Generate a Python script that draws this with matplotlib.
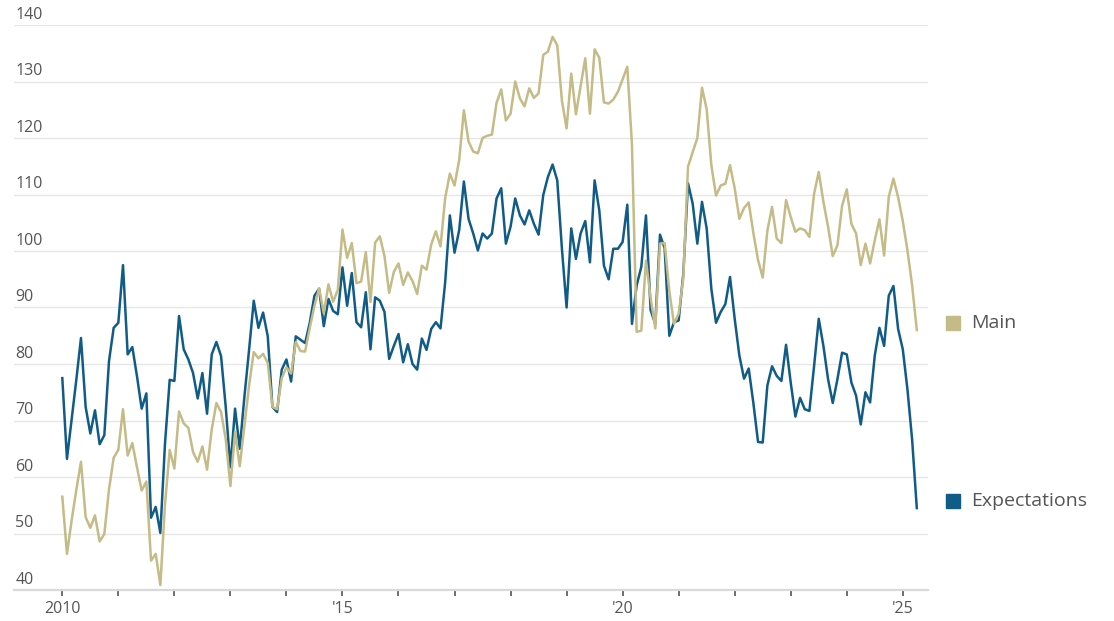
#!/usr/bin/env python3
"""Consumer confidence: main index vs. expectations index, monthly since 2010."""

import numpy as np
import matplotlib
matplotlib.use('Agg')
import matplotlib.pyplot as plt
import matplotlib.transforms as mtransforms


# Monthly values, starting January 2010
START_YEAR = 2010

main_index = [
    56.5, 46.4, 52.3, 57.7, 62.7, 52.9, 51.0, 53.2, 48.6, 49.9, 57.8, 63.4,   # 2010
    64.8, 72.0, 63.8, 66.0, 61.7, 57.6, 59.2, 45.2, 46.4, 40.9, 55.2, 64.8,   # 2011
    61.5, 71.6, 69.5, 68.7, 64.4, 62.7, 65.4, 61.3, 68.4, 73.1, 71.5, 66.7,   # 2012
    58.4, 68.0, 61.9, 69.0, 76.2, 82.1, 81.0, 81.8, 80.2, 72.4, 72.0, 77.5,   # 2013
    79.4, 78.3, 83.9, 82.3, 82.2, 86.4, 90.3, 93.4, 89.0, 94.1, 91.0, 93.1,   # 2014
    103.8, 98.8, 101.4, 94.3, 94.6, 99.8, 91.0, 101.5, 102.6, 99.1, 92.6, 96.3,   # 2015
    97.8, 94.0, 96.2, 94.7, 92.4, 97.4, 96.7, 101.1, 103.5, 100.8, 109.4, 113.7,  # 2016
    111.6, 116.1, 124.9, 119.4, 117.6, 117.3, 120.0, 120.4, 120.6, 126.2, 128.6, 123.1,  # 2017
    124.3, 130.0, 127.0, 125.6, 128.8, 127.1, 127.9, 134.7, 135.3, 137.9, 136.4, 126.6,  # 2018
    121.7, 131.4, 124.2, 129.2, 134.1, 124.3, 135.7, 134.2, 126.3, 126.1, 126.8, 128.2,  # 2019
    130.4, 132.6, 118.8, 85.7, 85.9, 98.3, 91.7, 86.3, 101.3, 101.4, 92.9, 87.1,  # 2020
    88.9, 95.2, 114.9, 117.5, 120.0, 128.9, 125.1, 115.2, 109.8, 111.6, 111.9, 115.2,  # 2021
    111.1, 105.7, 107.6, 108.6, 103.2, 98.4, 95.3, 103.6, 107.8, 102.2, 101.4, 109.0,  # 2022
    106.0, 103.4, 104.0, 103.7, 102.5, 110.1, 114.0, 108.7, 104.3, 99.1, 101.0, 108.0,  # 2023
    110.9, 104.8, 103.1, 97.5, 101.3, 97.8, 101.9, 105.6, 99.2, 109.6, 112.8, 109.5,  # 2024
    105.3, 100.1, 93.9, 86.0,                                                  # 2025
]

expectations_index = [
    77.5, 63.2, 70.2, 77.2, 84.6, 72.4, 67.7, 71.8, 65.8, 67.4, 80.5, 86.4,   # 2010
    87.3, 97.5, 81.7, 83.0, 77.8, 72.1, 74.8, 52.8, 54.7, 50.1, 66.0, 77.2,   # 2011
    77.0, 88.5, 82.6, 80.8, 78.4, 73.9, 78.4, 71.2, 81.7, 83.9, 81.4, 72.4,   # 2012
    61.7, 72.1, 65.0, 74.2, 82.5, 91.2, 86.4, 89.1, 84.9, 72.4, 71.5, 79.0,   # 2013
    80.8, 76.9, 84.9, 84.3, 83.7, 87.3, 92.1, 93.3, 86.7, 91.5, 89.4, 88.8,   # 2014
    97.1, 90.3, 96.1, 87.4, 86.5, 92.7, 82.6, 91.8, 91.2, 89.2, 80.9, 83.2,   # 2015
    85.3, 80.3, 83.5, 80.0, 79.0, 84.5, 82.5, 86.2, 87.4, 86.3, 94.5, 106.3,  # 2016
    99.7, 103.7, 112.3, 105.7, 103.1, 100.1, 103.1, 102.2, 103.1, 109.3, 111.1, 101.3,  # 2017
    104.3, 109.3, 106.3, 104.7, 107.2, 104.8, 102.9, 109.9, 113.1, 115.3, 112.5, 100.4,  # 2018
    90.0, 104.0, 98.6, 103.1, 105.3, 98.0, 112.5, 107.2, 97.4, 95.0, 100.4, 100.4,  # 2019
    101.6, 108.2, 87.1, 93.9, 97.2, 106.3, 89.5, 87.1, 102.9, 100.5, 85.0, 87.4,  # 2020
    87.7, 96.0, 112.0, 108.4, 101.3, 108.7, 104.0, 93.3, 87.3, 89.2, 90.6, 95.4,  # 2021
    88.0, 81.5, 77.4, 79.2, 73.1, 66.2, 66.1, 76.2, 79.6, 77.9, 77.0, 83.4,   # 2022
    76.7, 70.7, 74.0, 72.0, 71.7, 79.6, 88.0, 83.2, 77.3, 73.1, 77.3, 82.0,   # 2023
    81.7, 76.7, 74.4, 69.3, 75.0, 73.2, 81.5, 86.4, 83.2, 92.1, 93.8, 86.2,   # 2024
    82.6, 75.5, 66.6, 54.5,                                                   # 2025
]

y_ticks = [40, 50, 60, 70, 80, 90, 100, 110, 120, 130, 140]
x_tick_years = list(range(2010, 2026))
x_tick_labels = {2010: '2010', 2015: "'15", 2020: "'20", 2025: "'25"}

series_labels = ['Main', 'Expectations']

COLORS = {'Main': '#c4bb87', 'Expectations': '#105c87'}
TEXT_GREY = '#555555'
GRID_GREY = '#e6e6e6'


def setup_style():
    plt.rcParams['font.family'] = ['Open Sans', 'DejaVu Sans']
    plt.rcParams['font.size'] = 11.5
    plt.rcParams['axes.linewidth'] = 1.5


def main():
    setup_style()

    months = np.arange(len(main_index))
    x = START_YEAR + months / 12.0

    W, H = 1114, 621
    fig = plt.figure(figsize=(W / 100, H / 100), dpi=100)
    # axes box in pixel terms: x 14..928, y 25..590
    ax = fig.add_axes([14 / W, 1 - 590 / H, (928 - 14) / W, (590 - 25) / H])

    # horizontal grid lines
    for v in y_ticks[1:]:
        ax.axhline(v, color=GRID_GREY, lw=1.0, zorder=0)

    ax.plot(x, expectations_index, color=COLORS['Expectations'], lw=1.8,
            solid_joinstyle='round', zorder=3)
    ax.plot(x, main_index, color=COLORS['Main'], lw=1.8,
            solid_joinstyle='round', zorder=4)

    ax.set_xlim(START_YEAR - 0.862, START_YEAR + 15.45)
    ax.set_ylim(40, 140)

    for side in ['top', 'right', 'left']:
        ax.spines[side].set_visible(False)
    ax.spines['bottom'].set_color('#d9d9d9')
    ax.spines['bottom'].set_linewidth(1.6)

    ax.set_yticks([])
    ax.set_xticks(x_tick_years)
    ax.set_xticklabels([x_tick_labels.get(yr, '') for yr in x_tick_years])
    ax.tick_params(axis='x', direction='out', length=4, width=1.2,
                   color='#555555', labelcolor=TEXT_GREY, labelsize=11.5, pad=4)

    # y labels sit on top of the grid lines, at the left edge
    blend = mtransforms.blended_transform_factory(ax.transAxes, ax.transData)
    for v in y_ticks:
        ax.text(0.0015, v + 0.4, str(v), transform=blend, ha='left', va='bottom',
                color=TEXT_GREY, fontsize=11.5)

    # end-of-line labels
    last_vals = {'Main': main_index[-1], 'Expectations': expectations_index[-1]}
    for name in series_labels:
        square_tr = mtransforms.offset_copy(ax.transData, fig=fig, x=36, y=7, units='dots')
        ax.plot([x[-1]], [last_vals[name]], marker='s', ms=9.5, color=COLORS[name],
                transform=square_tr, clip_on=False, zorder=5)
        text_tr = mtransforms.offset_copy(ax.transData, fig=fig, x=54, y=7, units='dots')
        ax.text(x[-1], last_vals[name], name, transform=text_tr, ha='left', va='center',
                color=TEXT_GREY, fontsize=14, clip_on=False)

    fig.savefig('out.png', dpi=100)
    plt.close(fig)


if __name__ == '__main__':
    main()
